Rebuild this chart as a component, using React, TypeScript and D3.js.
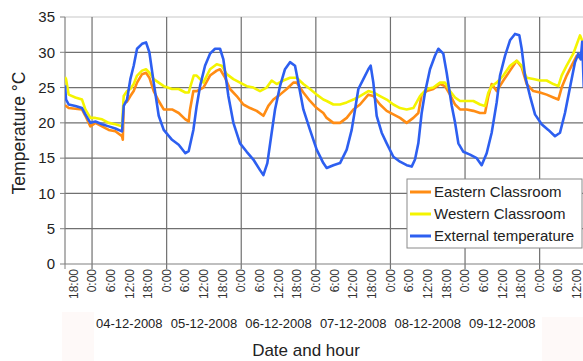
import React from 'react';
import * as d3 from 'd3';

// hours since 04-12-2008 0:00, temperature in °C
const eastern: [number, number][] = [
  [-8.7, 22.5], [-8.36, 22.4], [-7.51, 22.1], [-5.36, 22], [-3.22, 21.9], [-2.15, 21], [-0.54, 19.5], [1.07, 20],
  [3.22, 19.5], [5.36, 19], [7.51, 18.8], [9.65, 18.1], [9.9, 17.6], [10.19, 22.8], [11.26, 23], [12.33, 23.8],
  [13.4, 24.5], [14.48, 25.7], [16.09, 26.9], [17.37, 27.1], [18.44, 26.4], [19.84, 24.5], [21.45, 23.1], [23.06, 21.9],
  [25.74, 21.9], [27.88, 21.4], [30.03, 20.5], [31.1, 20.2], [31.53, 21.9], [32.6, 24.5], [33.67, 24.5], [35.82, 25],
  [37.96, 26.7], [40.11, 27.4], [41.18, 27.6], [42.79, 26.4], [44.39, 24.8], [46.54, 23.8], [48.68, 22.6], [50.83, 22.1],
  [52.97, 21.7], [55.12, 21], [56.72, 22.4], [58.33, 23.3], [60.47, 24], [62.62, 24.8], [64.76, 25.7], [65.83, 25.7],
  [67.98, 24.3], [70.12, 23.1], [72.27, 22.1], [74.41, 21.4], [75.49, 20.7], [77.64, 20], [79.78, 20], [81.93, 20.7],
  [84.07, 21.9], [86.21, 22.6], [88.89, 24], [90.5, 23.8], [92.65, 22.6], [94.79, 21.7], [96.93, 21.2], [99.08, 20.7],
  [101.22, 20], [103.37, 20.7], [104.97, 21.4], [106.05, 24], [107.65, 24.5], [109.8, 24.8], [111.94, 25.5], [113.55, 25.2],
  [115.16, 24], [116.78, 22.6], [118.39, 21.9], [120.53, 21.9], [122.67, 21.7], [124.82, 21.4], [126.43, 21.4], [127.5, 23.8],
  [128.57, 25.5], [130.18, 24.5], [132.32, 26], [134.47, 27.4], [136.61, 28.8], [138.22, 27.9], [139.83, 25.5], [141.97, 24.5],
  [144.11, 24.3], [146.26, 24], [148.4, 23.6], [150.01, 23.3], [151.08, 25], [152.69, 26.7], [154.3, 28.1], [155.91, 29.5],
  [157.84, 29],
];

const western: [number, number][] = [
  [-8.7, 26.5], [-8.36, 26.2], [-7.51, 24], [-5.36, 23.6], [-3.22, 23.3], [-2.15, 21.9], [-0.54, 20.7], [1.07, 20.7],
  [3.22, 20.5], [5.36, 20], [7.51, 19.8], [9.65, 19.5], [10.19, 23.8], [11.26, 24.5], [12.33, 24.8], [13.4, 25.5],
  [14.48, 26.7], [16.09, 27.4], [17.37, 27.6], [18.44, 27.1], [19.84, 26.2], [21.45, 25.7], [23.06, 25.2], [25.74, 24.8],
  [27.88, 24.8], [30.03, 24.3], [31.1, 24.3], [31.53, 25], [32.71, 26.7], [33.67, 26.7], [35.82, 25.7], [37.96, 27.6],
  [40.11, 28.3], [41.71, 28.1], [43.32, 26.9], [45.47, 26.2], [47.61, 25.7], [49.76, 25.2], [51.9, 25], [54.04, 24.5],
  [56.19, 25], [57.79, 26], [59.4, 25.5], [61.55, 26], [63.69, 26.4], [65.83, 26.4], [67.98, 25.5], [70.12, 24.8],
  [72.27, 24], [74.41, 23.3], [75.49, 23.1], [77.64, 22.6], [79.78, 22.6], [81.93, 22.9], [84.07, 23.3], [86.21, 23.8],
  [88.89, 24.5], [90.5, 24.3], [92.65, 23.8], [94.79, 23.3], [96.93, 22.6], [99.08, 22.1], [101.22, 21.9], [103.37, 22.1],
  [105.51, 23.8], [107.65, 24.8], [109.8, 25], [111.94, 25.7], [113.55, 25.7], [115.16, 24.5], [116.78, 23.6], [118.39, 23.1],
  [120.53, 23.1], [122.67, 23.1], [124.82, 22.6], [126.43, 22.4], [127.5, 24.3], [128.57, 25.2], [130.18, 25.7], [132.32, 26.7],
  [134.47, 28.1], [136.61, 28.8], [138.22, 28.1], [139.83, 26.4], [141.97, 26.2], [144.11, 26], [146.26, 26], [148.4, 25.5],
  [150.01, 25.2], [151.08, 26.7], [152.69, 28.1], [154.83, 29.8], [156.98, 32.4], [157.84, 31.5],
];

const external: [number, number][] = [
  [-8.7, 25.3], [-8.36, 23.3], [-7.51, 22.6], [-5.36, 22.4], [-3.22, 22.1], [-2.15, 21.2], [-0.54, 20], [1.07, 20.2],
  [3.22, 19.8], [5.36, 19.5], [7.51, 19.2], [9.65, 18.8], [10.19, 22.4], [11.26, 23.3], [12.33, 26.2], [13.4, 28.1],
  [14.48, 30.5], [16.09, 31.2], [17.37, 31.4], [18.44, 30], [19.84, 25.7], [21.45, 21], [23.06, 19], [25.74, 17.6],
  [27.88, 16.9], [30.03, 15.7], [31.1, 16], [32.6, 19], [33.67, 22.4], [34.75, 25.2], [36.35, 28.1], [37.96, 29.8],
  [39.57, 30.5], [41.18, 30.5], [42.25, 29], [43.86, 23.8], [45.47, 20], [47.61, 17.1], [49.76, 15.9], [51.9, 14.8],
  [54.04, 13.3], [55.12, 12.6], [56.4, 14.3], [57.79, 18.6], [58.87, 21.9], [60.47, 25.2], [62.08, 27.6], [63.69, 28.6],
  [65.3, 28.1], [66.37, 25.7], [67.98, 21.9], [70.12, 19], [72.27, 16.2], [74.41, 14.3], [75.49, 13.6], [77.64, 14],
  [79.78, 14.3], [81.93, 16.2], [83.53, 19], [84.61, 21.9], [85.68, 24.8], [87.29, 26.2], [88.89, 27.6], [89.64, 28.1],
  [90.5, 25.7], [91.57, 21], [93.18, 18.6], [94.79, 17.1], [96.93, 15.2], [99.08, 14.5], [101.22, 14], [102.83, 13.8],
  [103.9, 14.8], [104.97, 17.1], [106.05, 21.4], [107.12, 24.3], [108.73, 27.6], [110.33, 29.5], [111.41, 30.5], [113.01, 29.8],
  [114.09, 27.1], [115.69, 22.5], [116.8, 20], [117.85, 17.1], [119.46, 15.9], [121.6, 15.5], [123.75, 15], [125.35, 14],
  [126.96, 15.7], [128.57, 18.6], [130.18, 22.9], [131.25, 26.7], [132.86, 29.5], [134.47, 31.7], [136.07, 32.6], [137.47, 32.4],
  [138.22, 30.5], [139.29, 26.7], [140.9, 23.8], [142.51, 21.2], [144.65, 19.8], [146.79, 19], [148.94, 18.1], [150.55, 18.6],
  [152.15, 21.4], [153.76, 25], [155.37, 28.6], [156.44, 29.8], [157.2, 29], [157.7, 31.5], [158.2, 25],
];

const hourTicks = d3.range(-6, 157, 6);
const dayLines = [0, 24, 48, 72, 96, 120, 144];
const dates = ['04-12-2008', '05-12-2008', '06-12-2008', '07-12-2008', '08-12-2008', '09-12-2008'];
const tempTicks = [0, 5, 10, 15, 20, 25, 30, 35];

const series = [
  { name: 'Eastern Classroom', data: eastern, color: '#ff8c14' },
  { name: 'Western Classroom', data: western, color: '#f4f400' },
  { name: 'External temperature', data: external, color: '#2d5ff0' },
];

const font = 'Liberation Sans, Arial, sans-serif';

export default function App() {
  const left = 65, top = 17, bottom = 264;
  const pxPerHour = 74.6 / 24;
  const x = d3.scaleLinear().domain([-8.7, 162]).range([left, left + 170.7 * pxPerHour]);
  const y = d3.scaleLinear().domain([0, 35]).range([bottom, top]);
  const line = d3.line<[number, number]>().x(d => x(d[0])).y(d => y(d[1]));

  const hourLabel = (h: number) => {
    const v = ((h % 24) + 24) % 24;
    return v + ':00';
  };

  return (
    <svg width={583} height={361} style={{ position: 'absolute', left: 0, top: 0, background: '#fff' }}
      fontFamily={font}>
      <defs>
        <clipPath id="plot"><rect x={left} y={0} width={583 - left} height={bottom + 2} /></clipPath>
      </defs>
      <rect x={62} y={312} width={32} height={49} fill="#fef9f8" />
      <rect x={542} y={317} width={41} height={44} fill="#fef9f8" />

      {/* horizontal grid */}
      {tempTicks.slice(1).map(t => (
        <line key={t} x1={left} x2={583} y1={y(t)} y2={y(t)}
          stroke={t === 35 ? '#c8c8c8' : '#707070'} strokeWidth={1.2} />
      ))}
      {/* vertical grid at midnight */}
      {dayLines.map(h => (
        <line key={h} x1={x(h)} x2={x(h)} y1={top} y2={bottom + 5} stroke="#707070" strokeWidth={1.2} />
      ))}
      {/* axes */}
      <line x1={left} x2={left} y1={top} y2={bottom} stroke="#808080" strokeWidth={1.2} />
      <line x1={left} x2={583} y1={bottom} y2={bottom} stroke="#808080" strokeWidth={1.2} />
      {tempTicks.map(t => (
        <g key={t}>
          <line x1={left - 5} x2={left} y1={y(t)} y2={y(t)} stroke="#808080" />
          <text x={55} y={y(t)} dy="0.35em" textAnchor="end" fontSize={15} fill="#222">{t}</text>
        </g>
      ))}
      <line x1={left} x2={left} y1={bottom} y2={bottom + 5} stroke="#808080" />

      {hourTicks.map(h => (
        <text key={h} transform={`translate(${x(h)},269) rotate(-90)`} textAnchor="end" dy="0.35em"
          fontSize={12} fill="#333">{hourLabel(h)}</text>
      ))}
      {dates.map((d, i) => (
        <text key={d} x={x(12 + 24 * i)} y={328} textAnchor="middle" fontSize={13} fill="#222">{d}</text>
      ))}
      <text x={306} y={356} textAnchor="middle" fontSize={17} fill="#222">Date and hour</text>
      <text transform="translate(25,133) rotate(-90)" textAnchor="middle" fontSize={17.5} fill="#222">Temperature °C</text>

      <g clipPath="url(#plot)">
        {series.map(s => (
          <path key={s.name} d={line(s.data) || ''} fill="none" stroke={s.color} strokeWidth={2.6}
            strokeLinejoin="round" />
        ))}
      </g>

      {/* legend */}
      <g>
        <rect x={407} y={179} width={175} height={69} fill="#fff" stroke="#8a8a8a" strokeWidth={1} />
        {series.map((s, i) => (
          <g key={s.name} transform={`translate(0,${192 + i * 22})`}>
            <line x1={410} x2={431} y1={0} y2={0} stroke={s.color} strokeWidth={3} />
            <text x={434} y={0} dy="0.35em" fontSize={15} fill="#222">{s.name}</text>
          </g>
        ))}
      </g>
    </svg>
  );
}
